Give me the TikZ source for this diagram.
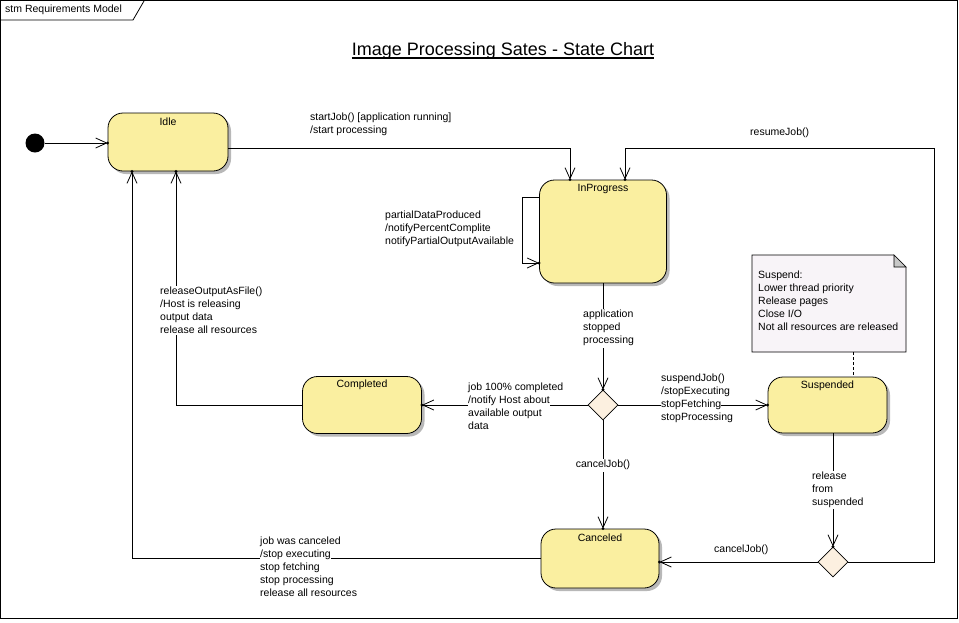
\documentclass[tikz,border=0pt]{standalone}
\usepackage{fontspec}
\setmainfont{Liberation Sans}
\usetikzlibrary{arrows.meta,shapes.geometric,shadows}
\definecolor{stfill}{RGB}{250,239,160}
\definecolor{dfill}{RGB}{252,240,224}
\definecolor{nfill}{RGB}{248,244,248}
\newcommand\wb[1]{{\setlength\fboxsep{0pt}\colorbox{white}{\strut #1}}}
\begin{document}
\begin{tikzpicture}[x=1pt,y=-1pt,
  font=\fontsize{10.5}{13}\selectfont,
  state/.style={draw, line width=0.8pt, rounded corners=15pt, fill=stfill, inner sep=0pt,
    drop shadow={shadow xshift=3pt, shadow yshift=-3pt, fill=black!28, opacity=1}},
  choice/.style={diamond, draw, line width=0.6pt, fill=dfill, minimum width=30pt,
    minimum height=30pt, inner sep=0pt, aspect=1},
  arr/.style={line width=0.8pt, -{Straight Barb[length=11pt,width=10pt,line width=0.8pt]}},
  conn/.style={line width=0.8pt},
  lbl/.style={anchor=west, align=left, inner sep=0pt},
  stname/.style={anchor=center, yshift=-9pt},
]
\useasboundingbox (0,0) rectangle (959,622);
\fill[white] (0,0) rectangle (959,622);
% frame
\draw[line width=0.8pt] (0.5,0.5) rectangle (957,618);
\draw[line width=0.8pt] (0.5,20) -- (133,20) -- (144,1);
\node[lbl] (tab) at (5,10) {stm Requirements Model};
% title
\node[anchor=base, inner sep=0pt, font=\fontsize{18}{22}\selectfont] (title) at (503,55) {Image Processing Sates - State Chart};
\draw[line width=1.6pt] ([yshift=-3pt]title.base west) -- ([yshift=-3pt]title.base east);

% states
\node[circle, fill=black, minimum size=19pt, inner sep=0pt] (init) at (35,143) {};
\node[state, minimum width=120pt, minimum height=58pt, label={[stname]north:Idle}] (idle) at (168,142) {};
\node[state, minimum width=127pt, minimum height=103pt, label={[stname]north:InProgress}] (ip) at (603,231.5) {};
\node[state, minimum width=119pt, minimum height=57pt, label={[stname]north:Completed}] (comp) at (362,405) {};
\node[state, minimum width=119pt, minimum height=56pt, label={[stname]north:Suspended}] (susp) at (827.5,405) {};
\node[state, minimum width=118pt, minimum height=59pt, label={[stname]north:Canceled}] (canc) at (600,558.5) {};
\node[choice] (d1) at (603,405) {};
\node[choice] (d2) at (833,562) {};

% note
\draw[line width=0.6pt, fill=nfill] (752,255) -- (894,255) -- (906,267) -- (906,352) -- (752,352) -- cycle;
\filldraw[line width=0.6pt, fill=black!22] (894,255) -- (906,267) -- (894,267) -- cycle;
\node[lbl] (note) at (758,301) {Suspend:\\Lower thread priority\\Release pages\\Close I/O\\Not all resources are released};
\coordinate (nb) at (853,352);
\draw[line width=0.8pt, dashed, dash pattern=on 3pt off 2pt] (nb) -- (nb |- susp.north);

% arrow end points
\coordinate (t1) at (idle.west |- init);
\coordinate (t2) at ([xshift=-33pt]ip.north);
\coordinate (t3) at ([xshift=22pt]ip.north);
\coordinate (t4) at (ip.west |- 0,263);
\coordinate (t5) at (d1.north);
\coordinate (t6) at (comp.east);
\coordinate (t7) at (susp.west);
\coordinate (t8) at (d1.south |- canc.north);
\coordinate (t9) at ([xshift=8pt]idle.south);
\coordinate (t10) at ([xshift=-36pt]idle.south);
\coordinate (t11) at (d2.north);
\coordinate (t12) at (canc.east |- d2.west);

% connectors
\draw[arr] (init) -- (t1);
\draw[arr] (idle.east |- 0,148) -| (t2);
\draw[arr] (d2.east) -| (934,148) -| (t3);
\draw[arr] (ip.west |- 0,197) -- (522,197) |- (t4);
\draw[arr] (ip.south) -- (t5);
\draw[arr] (d1.west) -- (t6);
\draw[arr] (d1.east) -- (t7);
\draw[arr] (d1.south) -- (t8);
\draw[arr] (comp.west) -| (t9);
\draw[arr] (canc.west) -| (t10);
\draw[arr] (d2 |- susp.south) -- (t11);
\draw[arr] (d2.west) -- (t12);
\foreach \p in {t1,t2,t3,t4,t5,t6,t7,t8,t9,t10,t11,t12} \fill (\p) circle (1.6);

% labels
\node[lbl] (l1) at (310,124.5) {\wb{startJob() [application running]}\\\wb{/start processing}};
\node[lbl] (l2) at (385,229) {\wb{partialDataProduced}\\\wb{/notifyPercentComplite}\\\wb{notifyPartialOutputAvailable}};
\node[lbl] (l3) at (750,133) {\wb{resumeJob()}};
\node[lbl] (l4) at (583,328) {\wb{application}\\\wb{stopped}\\\wb{processing}};
\node[lbl] (l5) at (468,407.5) {\wb{job 100\% completed}\\\wb{/notify Host about}\\\wb{available output}\\\wb{data}};
\node[lbl] (l6) at (661,398.5) {\wb{suspendJob()}\\\wb{/stopExecuting}\\\wb{stopFetching}\\\wb{stopProcessing}};
\node[anchor=center, inner sep=0pt] (l7) at (603,465) {\wb{cancelJob()}};
\node[lbl, fill=white, inner ysep=1pt] (l8) at (812,490) {release\\from\\suspended};
\node[lbl] (l9) at (714,550) {\wb{cancelJob()}};
\node[lbl, fill=white, inner ysep=1pt] (l10) at (160,310.5) {releaseOutputAsFile()\\/Host is releasing\\output data\\release all resources};
\node[lbl] (l11) at (260,568) {\wb{job was canceled}\\\wb{/stop executing}\\\wb{stop fetching}\\\wb{stop processing}\\\wb{release all resources}};
\end{tikzpicture}
\end{document}
